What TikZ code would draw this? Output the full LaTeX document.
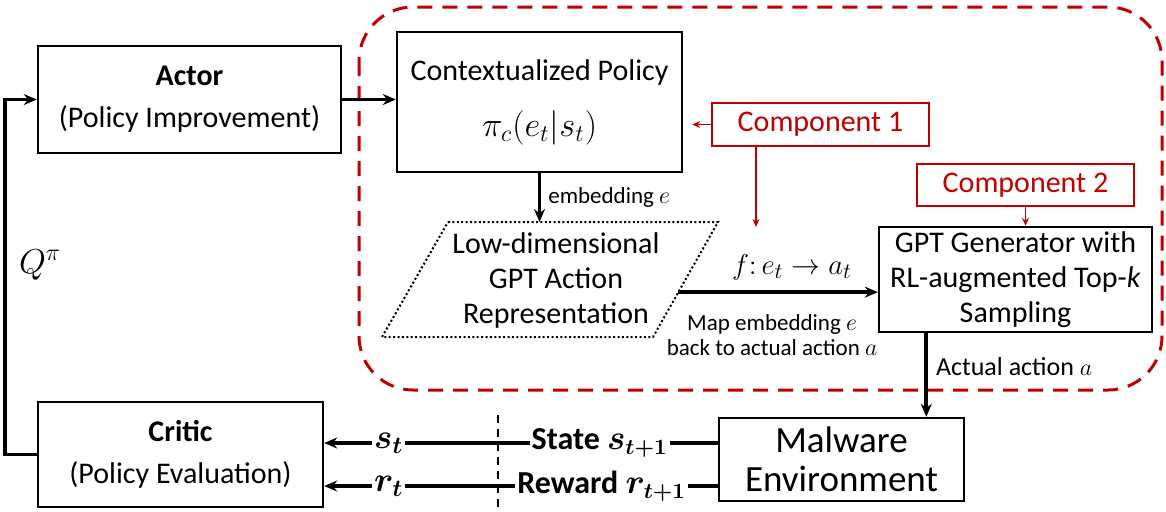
\documentclass[tikz,border=0pt]{standalone}
\usepackage{fontspec}
\setmainfont{Carlito}
\usepackage{bm}
\usetikzlibrary{arrows.meta,calc}
\definecolor{compred}{HTML}{C00000}

\begin{document}
\begin{tikzpicture}[x=0.5pt,y=-0.5pt,
  box/.style={draw,line width=1.2pt,align=center,inner sep=0pt},
  compbox/.style={draw=compred,line width=0.6pt,text=compred,inner sep=0pt,font=\fontsize{15}{18}\selectfont},
  arr/.style={line width=1.8pt,-{Stealth[length=6.5pt,width=5.5pt]}},
  redarr/.style={draw=compred,line width=0.7pt,-{Stealth[length=4pt,width=3.5pt]}},
  lbl/.style={font=\fontsize{11.5}{12.5}\selectfont,align=center,inner sep=0pt},
  bus/.style={fill=white,inner sep=1pt,font=\fontsize{16}{18}\selectfont\bfseries}]
  \useasboundingbox (0,0) rectangle (1166,511);
  \draw[compred,line width=1.5pt,dash pattern=on 7.5pt off 5pt,rounded corners=27pt] (359,7) rectangle (1162,390);

  \node[box,minimum width=151.5pt,minimum height=53.5pt,font=\fontsize{15}{21}\selectfont] (actor) at (189.5,99.5) {\textbf{Actor}\\(Policy Improvement)};
  \node[box,minimum width=142.5pt,minimum height=70pt,font=\fontsize{15}{18}\selectfont] (policy) at (539.5,102) {Contextualized Policy\\[10pt]{\fontsize{17}{20}\selectfont$\pi_c(e_t|s_t)$}};
  \node[compbox,minimum width=108.5pt,minimum height=21.5pt] (comp1) at (820.5,124.5) {Component 1};
  \node[compbox,minimum width=108.5pt,minimum height=21pt] (comp2) at (1025.5,185) {Component 2};
  \node[box,minimum width=136.5pt,minimum height=52.5pt,font=\fontsize{15}{17.5}\selectfont] (gpt) at (1015.5,279.5) {GPT Generator with\\RL-augmented Top-\textit{k}\\Sampling};
  \node[box,minimum width=122.5pt,minimum height=41.5pt,font=\fontsize{18.5}{19.5}\selectfont] (env) at (841.5,459.5) {Malware\\Environment};
  \node[box,minimum width=142.5pt,minimum height=52.5pt,font=\fontsize{15}{21}\selectfont] (critic) at (180.5,454.5) {\textbf{Critic}\\(Policy Evaluation)};
  \node[font=\fontsize{17}{20}\selectfont] (qpi) at (40,265) {$Q^{\pi}$};

  \coordinate (lowtl) at (448,222);
  \coordinate (lowtr) at (718,222);
  \coordinate (lowbr) at (653,337);
  \coordinate (lowbl) at (382,337);
  \draw[line width=1pt,dash pattern=on 1pt off 1.2pt] (lowtl) -- (lowtr) -- (lowbr) -- (lowbl) -- cycle;
  \node[align=center,font=\fontsize{15}{17.5}\selectfont] (lowdim) at (556,280) {Low-dimensional\\GPT Action\\Representation};

  \coordinate (fstart) at ($(lowtr)!0.61!(lowbr)$);
  \coordinate (fmap) at (756,227);
  \coordinate (actx) at ($(gpt.south west)!0.176!(gpt.south east)$);
  \coordinate (stin) at ([yshift=8.25pt]env.west);
  \coordinate (rwin) at ([yshift=-13.25pt]env.west);

  \draw[arr] (actor.east) -- (actor.east -| policy.west);
  \draw[arr] (critic.west) -- ++(-32,0) |- (actor.west);
  \draw[arr] (policy.south) -- (policy.south |- lowtl) node[midway,right,lbl,xshift=3.5pt] {embedding $e$};
  \draw[arr] (fstart) -- (fstart -| gpt.west)
    node[pos=0.57,yshift=12.5pt,font=\fontsize{15}{18}\selectfont] {$f\colon e_t\to a_t$}
    node[pos=0.47,yshift=-21.5pt,lbl] {Map embedding $e$\\back to actual action $a$};
  \draw[redarr,shorten >=4.5pt] (comp1.west) -- (comp1.west -| policy.east);
  \draw[redarr] (fmap |- comp1.south) -- (fmap);
  \draw[redarr] (comp2.south) -- (comp2.south |- gpt.north);
  \draw[arr] (actx) -- (actx |- env.north) node[midway,right,xshift=4pt,yshift=4pt,inner sep=0pt,font=\fontsize{13}{15}\selectfont] {Actual action $a$};
  \draw[arr] (stin) -- (stin -| critic.east)
    node[pos=0.3,bus] {State $\bm{s_{t+1}}$}
    node[pos=0.836,bus,font=\fontsize{18}{20}\selectfont] {$\bm{s_t}$};
  \draw[arr] (rwin) -- (rwin -| critic.east)
    node[pos=0.295,bus] {Reward $\bm{r_{t+1}}$}
    node[pos=0.836,bus,font=\fontsize{18}{20}\selectfont] {$\bm{r_t}$};
  \draw[line width=1pt,dash pattern=on 4pt off 3pt] (498,415) -- (498,511);
\end{tikzpicture}
\end{document}
